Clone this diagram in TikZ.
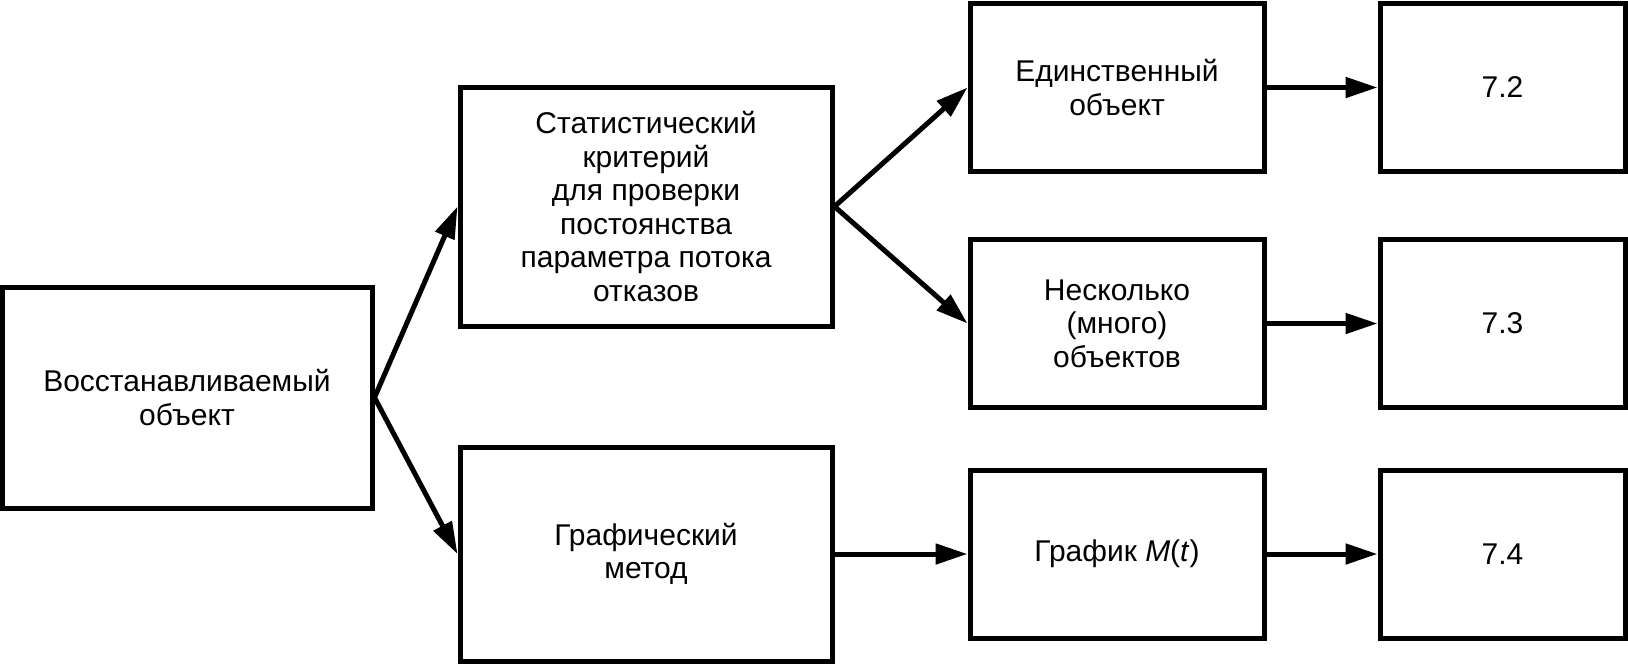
\documentclass[tikz,border=0pt]{standalone}
\usepackage{fontspec}
\setmainfont{Liberation Sans}
\usetikzlibrary{arrows.meta,positioning}

\begin{document}
\begin{tikzpicture}[
  x=0.5pt, y=-0.5pt,
  block/.style={draw, line width=2.5pt, align=center, inner sep=0pt,
    font=\fontsize{15}{16.8}\selectfont},
  big/.style={block, minimum width=186pt},
  mid/.style={block, minimum width=147pt, minimum height=84pt},
  num/.style={block, minimum width=122.5pt, minimum height=84pt},
  arrow/.style={-{Triangle[length=16pt,width=10pt]}, line width=2.5pt}
]
\useasboundingbox (0,0) rectangle (1628,666);

\node[block, minimum width=185pt, minimum height=110.5pt] (obj) at (187,397.5) {Восстанавливаемый\\объект};
\node[big, minimum height=119.5pt] (stat) at (646,206.5) {Статистический\\критерий\\для проверки\\постоянства\\параметра потока\\отказов};
\node[big, minimum height=107pt] (graph) at (646,554) {Графический\\метод};

\node[mid] (single) at (1117,87.5) {Единственный\\объект};
\node[mid] (many) at (1117,323.5) {Несколько\\(много)\\объектов};
\node[mid] (plot) at (1117,554) {График \textit{M}(\textit{t})};

\node[num] (s72) at (1502.5,87.5) {7.2};
\node[num] (s73) at (1502.5,323.5) {7.3};
\node[num] (s74) at (1502.5,554) {7.4};

\draw[arrow] (obj.east) -- (stat.west);
\draw[arrow] (obj.east) -- (graph.west);
\draw[arrow] (stat.east) -- (single.west);
\draw[arrow] (stat.east) -- (many.west);
\draw[arrow] (graph) -- (plot);
\draw[arrow] (single) -- (s72);
\draw[arrow] (many) -- (s73);
\draw[arrow] (plot) -- (s74);
\end{tikzpicture}
\end{document}
